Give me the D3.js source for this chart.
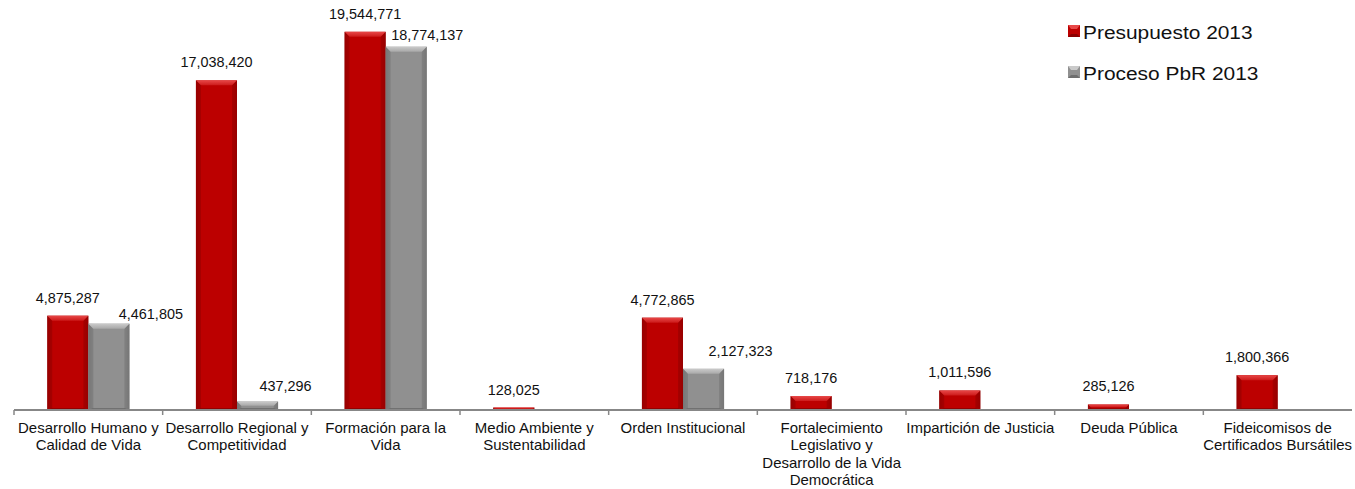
<!DOCTYPE html>
<html>
<head>
<meta charset="utf-8">
<script src="https://cdn.jsdelivr.net/npm/d3@7"></script>
<style>
  html, body { margin: 0; padding: 0; background: #fff; }
  svg { display: block; font-family: "Liberation Sans", Arial, sans-serif; }
</style>
</head>
<body>
<svg id="chart" width="1355" height="489"></svg>
<script>
// ---- data ----
const categories = [
  "Desarrollo Humano y\nCalidad de Vida",
  "Desarrollo Regional y\nCompetitividad",
  "Formación para la\nVida",
  "Medio Ambiente y\nSustentabilidad",
  "Orden Institucional",
  "Fortalecimiento\nLegislativo y\nDesarrollo de la Vida\nDemocrática",
  "Impartición de Justicia",
  "Deuda Pública",
  "Fideicomisos de\nCertificados Bursátiles"
];
const seriesNames = ["Presupuesto 2013", "Proceso PbR 2013"];
const presupuesto = [4875287, 17038420, 19544771, 128025, 4772865, 718176, 1011596, 285126, 1800366];
const procesoPbR  = [4461805, 437296, 18774137, null, 2127323, null, null, null, null];

// label nudges for the grey series (manually moved labels in the original)
const pbrLabelDx  = [42, 28, 21, 0, 37, 0, 0, 0, 0];
const pbrLabelGap = [10, 16, 12, 0, 18, 0, 0, 0, 0];

// ---- layout ----
const svg = d3.select("#chart");
const axisY = 410;
const x0 = d3.scaleBand().domain(categories).range([14, 1352]).paddingInner(0).paddingOuter(0);
const x1 = d3.scaleBand().domain(seriesNames).range([0, x0.bandwidth()]).paddingInner(0).paddingOuter(0.81);
const y = d3.scaleLinear().domain([0, 20000000]).range([axisY, 23]);
const fmt = d3.format(",");

const palette = {
  "Presupuesto 2013": { edge: "#8a0000", body: "#bc0000", top: "#e84848", topDark: "#cc1a1a", side: "#9c0000", bottom: "#780000" },
  "Proceso PbR 2013": { edge: "#6e6e6e", body: "#909090", top: "#cacaca", topDark: "#a8a8a8", side: "#7a7a7a", bottom: "#5e5e5e" }
};

const defs = svg.append("defs");
Object.entries(palette).forEach(([name, c], i) => {
  const gH = defs.append("linearGradient").attr("id", "gh" + i).attr("x1", 0).attr("x2", 1).attr("y1", 0).attr("y2", 0);
  gH.append("stop").attr("offset", 0).attr("stop-color", c.edge);
  gH.append("stop").attr("offset", 0.12).attr("stop-color", c.body);
  gH.append("stop").attr("offset", 0.88).attr("stop-color", c.body);
  gH.append("stop").attr("offset", 1).attr("stop-color", c.edge);
  const gT = defs.append("linearGradient").attr("id", "gt" + i).attr("x1", 0).attr("x2", 0).attr("y1", 0).attr("y2", 1);
  gT.append("stop").attr("offset", 0).attr("stop-color", c.top);
  gT.append("stop").attr("offset", 1).attr("stop-color", c.topDark);
});

function drawBar(g, x, yTop, w, seriesIdx) {
  const h = axisY - yTop;
  if (h <= 0) return;
  const c = palette[seriesNames[seriesIdx]];
  const b = Math.min(5, h / 2);
  g.append("rect").attr("x", x).attr("y", yTop).attr("width", w).attr("height", h)
    .attr("fill", `url(#gh${seriesIdx})`);
  // side bevels
  g.append("polygon")
    .attr("points", [[x, yTop], [x + b, yTop + b], [x + b, axisY], [x, axisY]].join(" "))
    .attr("fill", c.side).attr("opacity", 0.7);
  g.append("polygon")
    .attr("points", [[x + w, yTop], [x + w - b, yTop + b], [x + w - b, axisY], [x + w, axisY]].join(" "))
    .attr("fill", c.side).attr("opacity", 0.7);
  // top bevel
  g.append("polygon")
    .attr("points", [[x, yTop], [x + w, yTop], [x + w - b, yTop + b], [x + b, yTop + b]].join(" "))
    .attr("fill", `url(#gt${seriesIdx})`);
  // bottom bevel
  const bb = Math.min(2, h / 3);
  g.append("polygon")
    .attr("points", [[x + b, axisY - bb], [x + w - b, axisY - bb], [x + w, axisY], [x, axisY]].join(" "))
    .attr("fill", c.bottom).attr("opacity", 0.6);
}

const gBars = svg.append("g");
categories.forEach((cat, i) => {
  const vals = [presupuesto[i], procesoPbR[i]];
  vals.forEach((v, s) => {
    if (v == null) return;
    const bx = x0(cat) + x1(seriesNames[s]);
    const w = x1.bandwidth();
    drawBar(gBars, bx, y(v), w, s);
  });
});

// axis
const axis = svg.append("g");
axis.append("line").attr("x1", 14).attr("x2", 1352).attr("y1", axisY).attr("y2", axisY)
  .attr("stroke", "#878787").attr("stroke-width", 2);
categories.forEach(cat => {
  axis.append("line").attr("x1", x0(cat)).attr("x2", x0(cat)).attr("y1", axisY).attr("y2", axisY + 5)
    .attr("stroke", "#878787").attr("stroke-width", 1.5);
});

function stretchedText(g, x, yy, txt, size, sx, anchor) {
  return g.append("text")
    .attr("transform", `translate(${x},${yy}) scale(${sx},1)`)
    .attr("text-anchor", anchor || "middle")
    .attr("font-size", size).attr("fill", "#111").text(txt);
}

// category labels
const gCat = svg.append("g");
categories.forEach(cat => {
  const cx = x0(cat) + x0.bandwidth() / 2;
  cat.split("\n").forEach((line, k) => {
    stretchedText(gCat, cx, 433 + k * 17.4, line, 14, 1.07);
  });
});

// value labels
const gLab = svg.append("g");
categories.forEach((cat, i) => {
  const v = presupuesto[i];
  const bx = x0(cat) + x1(seriesNames[0]) + x1.bandwidth() / 2;
  stretchedText(gLab, bx, y(v) - 13, fmt(v), 14, 1.03);
  const p = procesoPbR[i];
  if (p != null) {
    const gx = x0(cat) + x1(seriesNames[1]) + x1.bandwidth() / 2 + pbrLabelDx[i];
    stretchedText(gLab, gx, y(p) - pbrLabelGap[i] + 5, fmt(p), 14, 1.03);
  }
});

// legend
const gLeg = svg.append("g");
seriesNames.forEach((name, s) => {
  const ly = 25 + s * 41;
  const c = palette[name];
  gLeg.append("rect").attr("x", 1068).attr("y", ly).attr("width", 12).attr("height", 12).attr("fill", c.body);
  gLeg.append("polygon")
    .attr("points", [[1068, ly], [1080, ly], [1077, ly + 4], [1071, ly + 4]].join(" "))
    .attr("fill", c.top);
  gLeg.append("polygon")
    .attr("points", [[1068, ly + 12], [1080, ly + 12], [1077, ly + 9], [1071, ly + 9]].join(" "))
    .attr("fill", c.edge);
  stretchedText(gLeg, 1083, ly + 14, name, 19, 1.1, "start");
});
</script>
</body>
</html>
